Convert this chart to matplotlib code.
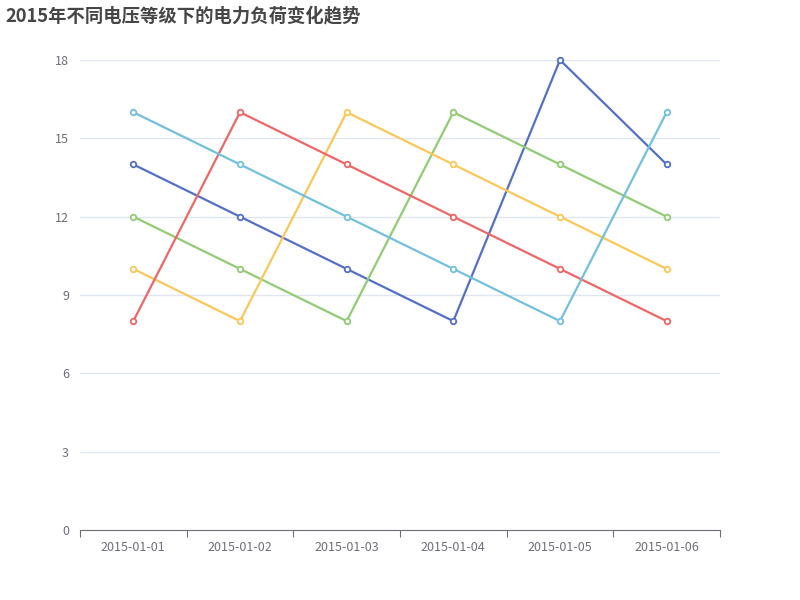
import matplotlib
matplotlib.use('Agg')
import matplotlib.pyplot as plt

plt.rcParams['font.family'] = ['Noto Sans CJK SC', 'DejaVu Sans']

# data
dates = ['2015-01-01', '2015-01-02', '2015-01-03', '2015-01-04', '2015-01-05', '2015-01-06']
series_a = [14, 12, 10, 8, 18, 14]
series_b = [12, 10, 8, 16, 14, 12]
series_c = [10, 8, 16, 14, 12, 10]
series_d = [8, 16, 14, 12, 10, 8]
series_e = [16, 14, 12, 10, 8, 16]
colors = ['#5470c6', '#91cc75', '#fac858', '#ee6666', '#73c0de']
y_ticks = [0, 3, 6, 9, 12, 15, 18]

fig = plt.figure(figsize=(8, 6), dpi=100)
ax = fig.add_axes([0.1, 70 / 600, 0.8, 470 / 600])

x = list(range(len(dates)))
for vals, c in zip([series_a, series_b, series_c, series_d, series_e], colors):
    ax.plot(x, vals, color=c, linewidth=1.6, marker='o', markersize=4,
            markerfacecolor='white', markeredgecolor=c, markeredgewidth=1.3,
            zorder=3, clip_on=False)

ax.set_xlim(-0.5, len(dates) - 0.5)
ax.set_ylim(0, 18)
ax.set_yticks(y_ticks)
ax.set_yticklabels([str(v) for v in y_ticks], fontsize=9, color='#6e7079')
ax.tick_params(axis='y', length=0, pad=8)
ax.grid(axis='y', color='#e0e6f1', linewidth=1)
ax.set_axisbelow(True)

# category ticks on boundaries, labels in the middle
ax.set_xticks([i - 0.5 for i in range(len(dates) + 1)])
ax.set_xticklabels([])
ax.set_xticks(x, minor=True)
ax.set_xticklabels(dates, minor=True, fontsize=9, color='#6e7079')
ax.tick_params(axis='x', which='major', length=5, color='#6e7079', direction='out')
ax.tick_params(axis='x', which='minor', length=0, pad=8)

for side in ['top', 'right', 'left']:
    ax.spines[side].set_visible(False)
ax.spines['bottom'].set_color('#6e7079')

fig.text(5 / 800, 1 - 16 / 600, '2015年不同电压等级下的电力负荷变化趋势',
         fontsize=13.2, fontweight='bold', color='#464646', va='center', ha='left')

fig.savefig('out.png', dpi=100)
